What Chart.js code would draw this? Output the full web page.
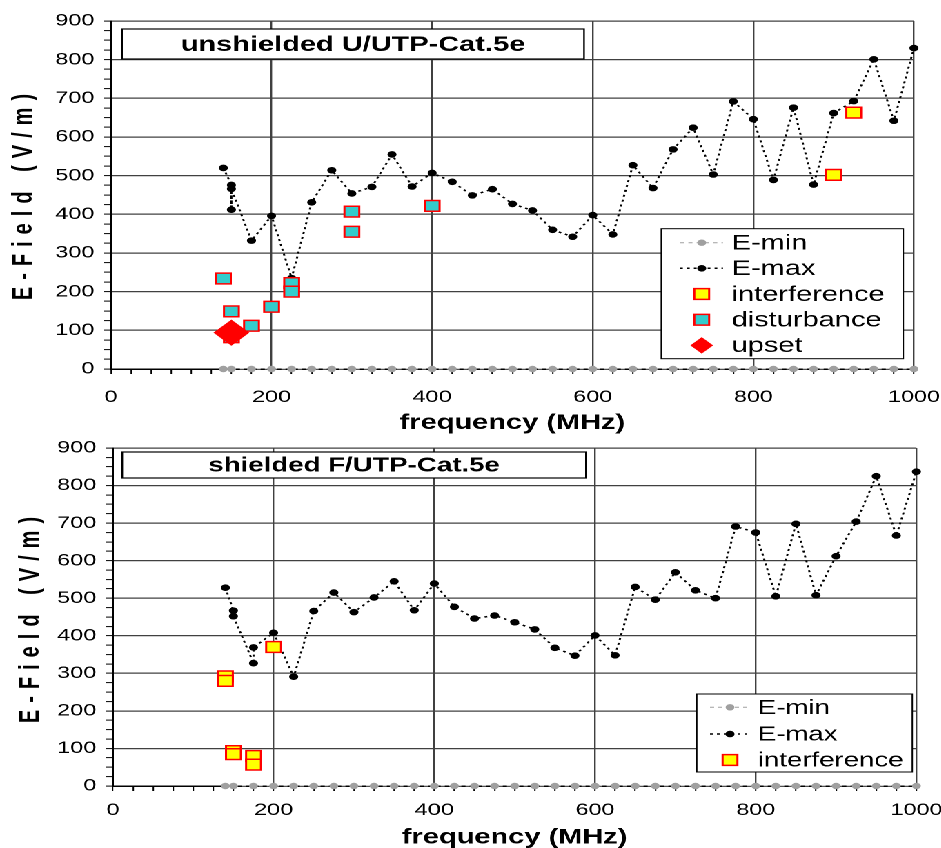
<!DOCTYPE html>
<html>
<head>
<meta charset="utf-8">
<script src="https://cdn.jsdelivr.net/npm/chart.js@4.4.0/dist/chart.umd.min.js"></script>
<style>
html, body { margin: 0; padding: 0; background: #fff; overflow: hidden; }
/* the reference is stretched sideways, so the charts are drawn narrow and scaled out */
#stage { position: absolute; left: 0; top: 0; width: 682px; height: 848px; transform: scaleX(1.38); transform-origin: 0 0; }
#c1 { position: absolute; left: 0; top: 0; }
#c2 { position: absolute; left: 0; top: 428px; }
</style>
</head>
<body>
<div id="stage">
  <canvas id="c1" width="682" height="440"></canvas>
  <canvas id="c2" width="682" height="420"></canvas>
</div>
<script>
const FONT = '"Liberation Sans", Arial, Helvetica, sans-serif';

// tick labels
const xTicks = [0, 200, 400, 600, 800, 1000];
const yTicks = [0, 100, 200, 300, 400, 500, 600, 700, 800, 900];

// unshielded U/UTP-Cat.5e
const topMinFreq = [140, 150, 175, 200, 225, 250, 275, 300, 325, 350, 375, 400, 425, 450, 475, 500, 525, 550, 575,
    600, 625, 650, 675, 700, 725, 750, 775, 800, 825, 850, 875, 900, 925, 950, 975, 1000, 1020];
const topMinField = [0, 0, 0, 0, 0, 0, 0, 0, 0, 0, 0, 0, 0, 0, 0, 0, 0, 0, 0,
    0, 0, 0, 0, 0, 0, 0, 0, 0, 0, 0, 0, 0, 0, 0, 0, 0, 0];
const topMaxFreq = [140, 150, 150, 150, 175, 200, 225, 250, 275, 300, 325, 350, 375, 400, 425, 450, 475, 500, 525,
    550, 575, 600, 625, 650, 675, 700, 725, 750, 775, 800, 825, 850, 875, 900, 925, 950, 975, 1000, 1020];
const topMaxField = [520, 476, 412, 466, 332, 396, 235, 431, 514, 454, 471, 555, 472, 507, 484, 449, 465, 427, 410,
    360, 342, 398, 348, 527, 468, 568, 624, 503, 692, 646, 489, 676, 477, 662, 693, 801, 642, 830, 845];
const topInterfFreq = [900, 925];
const topInterfField = [502, 663];
const topDistFreq = [140, 150, 150, 175, 200, 225, 225, 300, 300, 400];
const topDistField = [234, 149, 82, 112, 161, 222, 200, 407, 355, 422];
const topUpsetFreq = [150];
const topUpsetField = [94];

// shielded F/UTP-Cat.5e
const botMinFreq = [140, 150, 175, 200, 225, 250, 275, 300, 325, 350, 375, 400, 425, 450, 475, 500, 525, 550, 575,
    600, 625, 650, 675, 700, 725, 750, 775, 800, 825, 850, 875, 900, 925, 950, 975, 1000];
const botMinField = [0, 0, 0, 0, 0, 0, 0, 0, 0, 0, 0, 0, 0, 0, 0, 0, 0, 0, 0,
    0, 0, 0, 0, 0, 0, 0, 0, 0, 0, 0, 0, 0, 0, 0, 0, 0];
const botMaxFreq = [140, 150, 150, 175, 175, 200, 225, 250, 275, 300, 325, 350, 375, 400, 425, 450, 475, 500, 525,
    550, 575, 600, 625, 650, 675, 700, 725, 750, 775, 800, 825, 850, 875, 900, 925, 950, 975, 1000];
const botMaxField = [528, 467, 452, 327, 369, 408, 291, 466, 515, 463, 502, 545, 468, 539, 477, 446, 454, 436, 417,
    368, 347, 401, 348, 530, 496, 569, 521, 500, 691, 675, 505, 698, 508, 612, 704, 825, 667, 837];
const botInterfFreq = [140, 140, 150, 150, 175, 175, 200];
const botInterfField = [292, 280, 93, 85, 80, 57, 370];

function pts(xs, ys) {
    return xs.map((x, i) => ({ x: x, y: ys[i] }));
}

// no marker for the points past the end of the axis
const markerOnAxis = r => ctx => (ctx.raw && ctx.raw.x > 1000) ? 0 : r;

function lineSet(label, xs, ys, color, dash, width, r, order) {
    return {
        label: label, data: pts(xs, ys), showLine: true,
        borderColor: color, borderWidth: width, borderDash: dash,
        pointStyle: 'circle', pointRadius: markerOnAxis(r),
        pointBackgroundColor: color, pointBorderColor: color, pointBorderWidth: 1,
        legendRadius: r, clip: false, order: order
    };
}

function markSet(label, xs, ys, style, fill, r, legendR, order) {
    return {
        label: label, data: pts(xs, ys), showLine: false,
        pointStyle: style, pointRadius: r,
        pointBackgroundColor: fill, pointBorderColor: '#ff0000', pointBorderWidth: 1.5,
        legendRadius: legendR, order: order
    };
}

const boxTitle = {
    id: 'boxTitle',
    afterDatasetsDraw(chart, args, o) {
        const ctx = chart.ctx;
        ctx.save();
        ctx.fillStyle = '#fff';
        ctx.strokeStyle = '#000';
        ctx.lineWidth = 1.2;
        ctx.fillRect(o.left, o.top, o.right - o.left, o.bottom - o.top);
        ctx.strokeRect(o.left, o.top, o.right - o.left, o.bottom - o.top);
        ctx.fillStyle = '#000';
        ctx.font = 'bold ' + o.size + 'px ' + FONT;
        ctx.textAlign = 'center';
        ctx.textBaseline = 'middle';
        ctx.fillText(o.text, (o.left + o.right) / 2, (o.top + o.bottom) / 2 + 1);
        ctx.restore();
    }
};

const boxLegend = {
    id: 'boxLegend',
    afterDatasetsDraw(chart, args, o) {
        const ctx = chart.ctx;
        ctx.save();
        ctx.fillStyle = '#fff';
        ctx.strokeStyle = '#000';
        ctx.lineWidth = 1;
        ctx.fillRect(o.left, o.top, o.right - o.left, o.bottom - o.top);
        ctx.strokeRect(o.left, o.top, o.right - o.left, o.bottom - o.top);
        chart.data.datasets.forEach((ds, i) => {
            const y = o.rows[i];
            if (ds.showLine) {
                ctx.beginPath();
                ctx.setLineDash(ds.borderDash);
                ctx.strokeStyle = ds.borderColor;
                ctx.lineWidth = ds.borderWidth;
                ctx.moveTo(o.lineFrom, y);
                ctx.lineTo(o.lineTo, y);
                ctx.stroke();
                ctx.setLineDash([]);
            }
            ctx.fillStyle = ds.pointBackgroundColor;
            ctx.strokeStyle = ds.pointBorderColor;
            ctx.lineWidth = ds.pointBorderWidth;
            Chart.helpers.drawPoint(ctx, {
                pointStyle: ds.pointStyle, rotation: 0,
                radius: ds.legendRadius, borderWidth: ds.pointBorderWidth
            }, o.symbolX, y);
            ctx.fillStyle = '#000';
            ctx.font = o.size + 'px ' + FONT;
            ctx.textAlign = 'left';
            ctx.textBaseline = 'middle';
            ctx.fillText(ds.label, o.textX, y + 1);
        });
        ctx.restore();
    }
};

// rotated axis title with wide letter spacing
const yTitle = {
    id: 'yTitle',
    afterDraw(chart, args, o) {
        const ctx = chart.ctx;
        ctx.save();
        ctx.translate(o.x, o.y);
        ctx.rotate(-Math.PI / 2);
        ctx.font = 'bold ' + o.size + 'px ' + FONT;
        ctx.letterSpacing = o.spacing + 'px';
        ctx.fillStyle = '#000';
        ctx.textAlign = 'center';
        ctx.textBaseline = 'middle';
        ctx.fillText(o.text, o.spacing / 2, 0);
        ctx.restore();
    }
};

function buildChart(id, p) {
    return new Chart(document.getElementById(id), {
        type: 'scatter',
        data: { datasets: p.datasets },
        options: {
            responsive: false,
            animation: false,
            events: [],
            devicePixelRatio: 2,
            layout: { padding: { left: 0, top: p.padTop, right: p.padRight, bottom: 0 } },
            plugins: {
                legend: { display: false },
                tooltip: { enabled: false },
                boxTitle: p.title,
                boxLegend: p.legend,
                yTitle: p.yTitle
            },
            scales: {
                x: {
                    type: 'linear', min: 0, max: 1000,
                    ticks: {
                        stepSize: 25, autoSkip: false, maxRotation: 0, minRotation: 0,
                        padding: p.xTickPad, color: '#000',
                        font: { family: FONT, size: 17 },
                        callback: v => xTicks.includes(v) ? String(v) : ''
                    },
                    grid: {
                        color: c => (c.tick && xTicks.includes(c.tick.value)) ? '#404040' : 'rgba(0,0,0,0)',
                        lineWidth: 1.2, tickColor: '#000', tickLength: 5, tickWidth: 1
                    },
                    border: { color: '#000', width: 1.5 },
                    title: {
                        display: true, text: 'frequency (MHz)', color: '#000',
                        font: { family: FONT, size: 21, weight: 'bold', lineHeight: 1 },
                        padding: { top: 0, bottom: p.xTitlePad }
                    },
                    // fixed axis band; the end labels may hang into the margins
                    afterFit: s => { s.height = p.xHeight; s.paddingLeft = 0; s.paddingRight = 0; }
                },
                y: {
                    type: 'linear', min: 0, max: 900,
                    ticks: {
                        stepSize: 25, autoSkip: false, padding: 7, color: '#000',
                        font: { family: FONT, size: 17 },
                        callback: v => yTicks.includes(v) ? String(v) : ''
                    },
                    grid: {
                        color: c => (c.tick && yTicks.includes(c.tick.value)) ? '#404040' : 'rgba(0,0,0,0)',
                        lineWidth: 1.2, tickColor: '#000', tickLength: 5, tickWidth: 1
                    },
                    border: { color: '#000', width: 1.5 },
                    afterFit: s => { s.width = p.yWidth; s.paddingTop = 0; s.paddingBottom = 0; }
                }
            }
        },
        plugins: [boxTitle, boxLegend, yTitle]
    });
}

buildChart('c1', {
    datasets: [
        lineSet('E-min', topMinFreq, topMinField, '#a0a0a0', [3, 3], 1, 2.7, 5),
        lineSet('E-max', topMaxFreq, topMaxField, '#000000', [2, 3], 1.5, 2.8, 4),
        markSet('interference', topInterfFreq, topInterfField, 'rect', '#ffff00', 7.6, 7.6, 3),
        markSet('disturbance', topDistFreq, topDistField, 'rect', '#33cccc', 7.6, 7.6, 2),
        markSet('upset', topUpsetFreq, topUpsetField, 'rectRot', '#ff0000', 12, 7.2, 1)
    ],
    padTop: 21, padRight: 19.7, yWidth: 80.4, xHeight: 71, xTickPad: 13, xTitlePad: 6.5,
    title: { left: 88.4, right: 423.2, top: 29, bottom: 59, size: 21, text: 'unshielded U/UTP-Cat.5e' },
    legend: {
        left: 479.2, right: 654.6, top: 228.7, bottom: 358.7, rows: [242.7, 268.3, 294, 319.7, 345.4],
        symbolX: 508.5, lineFrom: 492.8, lineTo: 523.9, textX: 530.2, size: 21
    },
    yTitle: { x: 17.4, y: 197, size: 20, spacing: 7, text: 'E-Field (V/m)' }
});

buildChart('c2', {
    datasets: [
        lineSet('E-min', botMinFreq, botMinField, '#a0a0a0', [3, 3], 1, 2.7, 5),
        lineSet('E-max', botMaxFreq, botMaxField, '#000000', [2, 3], 1.5, 2.8, 4),
        markSet('interference', botInterfFreq, botInterfField, 'rect', '#ffff00', 7.6, 7.6, 3)
    ],
    padTop: 20, padRight: 17.9, yWidth: 81.8, xHeight: 62, xTickPad: 9, xTitlePad: 0,
    title: { left: 88.6, right: 424.6, top: 24, bottom: 50, size: 20, text: 'shielded F/UTP-Cat.5e' },
    legend: {
        left: 504.9, right: 661.1, top: 266, bottom: 344, rows: [279.3, 306, 332],
        symbolX: 529, lineFrom: 514.5, lineTo: 543.5, textX: 549.1, size: 20
    },
    yTitle: { x: 22.5, y: 192, size: 20, spacing: 7, text: 'E-Field (V/m)' }
});
</script>
</body>
</html>
